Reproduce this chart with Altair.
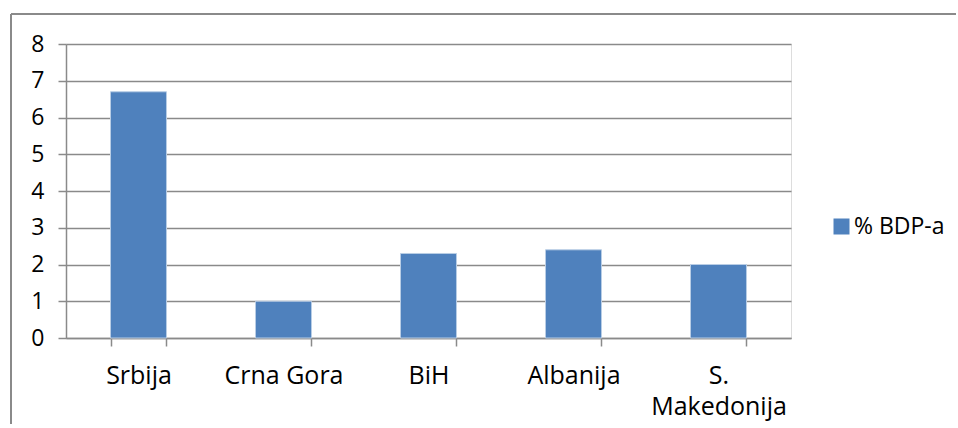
import altair as alt
import pandas as pd

# Public spending share by country (% of GDP)
countries = ["Srbija", "Crna Gora", "BiH", "Albanija", "S. Makedonija"]
values = [6.7, 1.0, 2.3, 2.4, 2.0]
series_name = "% BDP-a"

df = pd.DataFrame({"country": countries, "value": values, "series": series_name})

FONT = "Open Sans"
GRID = "#8a8a8a"
BAR = "#4F81BD"

bars = alt.Chart(df).mark_bar(color=BAR, stroke="#b9cde5", strokeWidth=1).encode(
    x=alt.X(
        "country:N",
        sort=countries,
        title=None,
        scale=alt.Scale(paddingInner=0.614, paddingOuter=0.307),
        axis=alt.Axis(
            labelAngle=0,
            labelFontSize=25,
            labelFont=FONT,
            labelColor="#000000",
            labelPadding=17,
            labelLineHeight=31,
            labelExpr="datum.label == 'S. Makedonija' ? ['S.', 'Makedonija'] : datum.label",
            tickBand="extent",
            tickSize=8,
            tickColor=GRID,
            tickWidth=1.5,
            domainColor=GRID,
            domainWidth=1.5,
            grid=False,
        ),
    ),
    y=alt.Y(
        "value:Q",
        title=None,
        scale=alt.Scale(domain=[0, 8], nice=False),
        axis=alt.Axis(
            values=[0, 1, 2, 3, 4, 5, 6, 7, 8],
            labelFontSize=23,
            labelFont=FONT,
            labelColor="#000000",
            labelPadding=14,
            tickSize=8,
            tickColor=GRID,
            tickWidth=1.5,
            domainColor=GRID,
            domainWidth=1.5,
            gridColor=GRID,
            gridWidth=1.5,
        ),
    ),
    fill=alt.Fill(
        "series:N",
        scale=alt.Scale(range=[BAR]),
        legend=alt.Legend(
            title=None,
            orient="none",
            legendX=764,
            legendY=171,
            symbolType="square",
            symbolSize=256,
            symbolStrokeWidth=0,
            labelFont=FONT,
            labelFontSize=23,
            labelColor="#000000",
            labelOffset=1,
        ),
    ),
)

# Outer chart frame (top and left edges)
frame_top = alt.Chart(df).mark_rule(color=GRID, strokeWidth=2).encode(
    x=alt.value(-55), x2=alt.value(890), y=alt.value(-30)
)
frame_left = alt.Chart(df).mark_rule(color=GRID, strokeWidth=2).encode(
    x=alt.value(-55), y=alt.value(-30), y2=alt.value(380)
)

chart = (
    alt.layer(bars, frame_top, frame_left)
    .properties(width=725, height=294, padding={"left": 10, "top": 13, "right": 0, "bottom": 0})
    .configure_view(stroke=None)
    .configure(background="white")
)

chart.save("out.html", embed_options={"renderer": "svg", "actions": False})
